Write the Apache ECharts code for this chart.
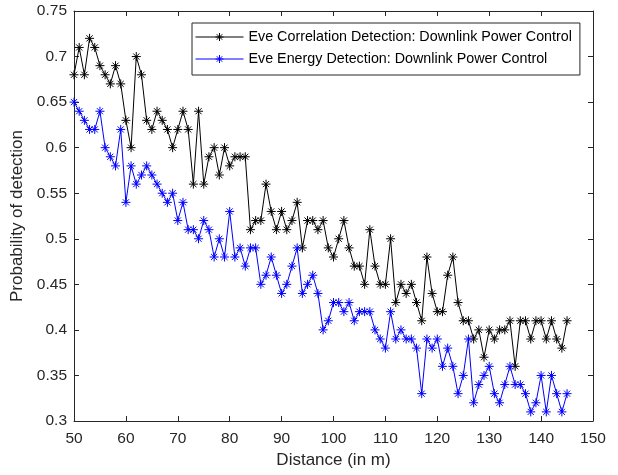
<!DOCTYPE html>
<html>
<head>
<meta charset="utf-8">
<script src="https://cdn.jsdelivr.net/npm/echarts@6/dist/echarts.min.js"></script>
<style>
html,body{margin:0;padding:0;background:#fff;}
#chart{width:618px;height:475px;}
</style>
</head>
<body>
<div id="chart"></div>
<script>
var distances = [];
for (var d = 50; d <= 145; d++) distances.push(d);

var corrLabel = 'Eve Correlation Detection: Downlink Power Control';
var energyLabel = 'Eve Energy Detection: Downlink Power Control';

var corrValues = [
  0.68,0.71,0.68,0.72,0.71,0.69,0.68,0.67,0.69,0.67,
  0.63,0.60,0.70,0.68,0.63,0.62,0.64,0.63,0.62,0.60,
  0.62,0.64,0.62,0.56,0.64,0.56,0.59,0.60,0.57,0.60,
  0.58,0.59,0.59,0.59,0.51,0.52,0.52,0.56,0.53,0.51,
  0.53,0.51,0.52,0.54,0.49,0.52,0.52,0.51,0.52,0.49,
  0.48,0.50,0.52,0.49,0.47,0.47,0.45,0.51,0.47,0.45,
  0.45,0.50,0.43,0.45,0.44,0.45,0.43,0.41,0.48,0.44,
  0.42,0.42,0.46,0.48,0.43,0.41,0.41,0.39,0.40,0.37,
  0.40,0.39,0.40,0.40,0.41,0.36,0.41,0.41,0.39,0.41,
  0.41,0.39,0.41,0.39,0.38,0.41
];

var energyValues = [
  0.65,0.64,0.63,0.62,0.62,0.64,0.60,0.59,0.58,0.62,
  0.54,0.58,0.56,0.57,0.58,0.57,0.56,0.55,0.54,0.55,
  0.52,0.54,0.51,0.51,0.50,0.52,0.51,0.48,0.50,0.48,
  0.53,0.48,0.49,0.47,0.49,0.49,0.45,0.46,0.48,0.46,
  0.44,0.45,0.47,0.49,0.44,0.45,0.46,0.44,0.40,0.41,
  0.43,0.43,0.42,0.43,0.41,0.42,0.42,0.42,0.40,0.39,
  0.38,0.42,0.39,0.40,0.39,0.39,0.38,0.33,0.39,0.38,
  0.39,0.36,0.38,0.36,0.33,0.35,0.39,0.32,0.34,0.35,
  0.36,0.33,0.32,0.34,0.36,0.34,0.34,0.33,0.31,0.32,
  0.35,0.31,0.35,0.33,0.31,0.33
];

function pairs(xs, ys) {
  return xs.map(function (x, i) { return [x, ys[i]]; });
}

var FONT = '"Liberation Sans", Arial, Helvetica, sans-serif';
var AXIS_COLOR = '#262626';
var STAR = 'path://M5,0L5,10M0,5L10,5M1.6,1.6L8.4,8.4M1.6,8.4L8.4,1.6';

var chart = echarts.init(document.getElementById('chart'), null, {renderer: 'canvas'});

function axisCommon(showLabel) {
  return {
    axisLine: {show: true, onZero: false, lineStyle: {color: AXIS_COLOR, width: 1}},
    axisTick: {show: true, inside: true, length: 5, lineStyle: {color: AXIS_COLOR, width: 1}},
    splitLine: {show: false},
    axisLabel: {show: showLabel, color: AXIS_COLOR, fontFamily: FONT, fontSize: 15.5}
  };
}

var xMain = Object.assign(axisCommon(true), {
  type: 'value', min: 50, max: 150, interval: 10, position: 'bottom',
  name: 'Distance (in m)', nameLocation: 'middle', nameGap: 31,
  nameTextStyle: {color: AXIS_COLOR, fontFamily: FONT, fontSize: 17}
});
xMain.axisLabel.margin = 10;

var xTop = Object.assign(axisCommon(false), {
  type: 'value', min: 50, max: 150, interval: 10, position: 'top'
});

var yMain = Object.assign(axisCommon(true), {
  type: 'value', min: 0.3, max: 0.75, interval: 0.05, position: 'left',
  name: 'Probability of detection', nameLocation: 'middle', nameGap: 45,
  nameTextStyle: {color: AXIS_COLOR, fontFamily: FONT, fontSize: 17}
});
yMain.axisLabel.margin = 7;
yMain.axisLabel.formatter = function (v) { return String(parseFloat(v.toFixed(2))); };

var yRight = Object.assign(axisCommon(false), {
  type: 'value', min: 0.3, max: 0.75, interval: 0.05, position: 'right'
});

function lineSeries(name, color, data) {
  return {
    name: name,
    type: 'line',
    xAxisIndex: 0,
    yAxisIndex: 0,
    data: data,
    symbol: STAR,
    symbolSize: 9,
    showAllSymbol: true,
    lineStyle: {color: color, width: 1},
    itemStyle: {color: color, borderColor: color, borderWidth: 1},
    emphasis: {disabled: true},
    animation: false
  };
}

chart.setOption({
  animation: false,
  backgroundColor: '#fff',
  grid: {left: 74, right: 25, top: 11, bottom: 54, containLabel: false},
  xAxis: [xMain, xTop],
  yAxis: [yMain, yRight],
  legend: {
    orient: 'vertical',
    left: 192,
    top: 23,
    padding: [7, 8, 9, 3],
    itemGap: 8,
    itemWidth: 48,
    itemHeight: 10,
    backgroundColor: '#fff',
    borderColor: AXIS_COLOR,
    borderWidth: 1,
    borderRadius: 0,
    lineStyle: {width: 1},
    itemStyle: {borderWidth: 1},
    textStyle: {color: '#000', fontFamily: FONT, fontSize: 14.3},
    data: [corrLabel, energyLabel]
  },
  series: [
    lineSeries(corrLabel, '#000000', pairs(distances, corrValues)),
    lineSeries(energyLabel, '#0000ff', pairs(distances, energyValues))
  ]
});
</script>
</body>
</html>
